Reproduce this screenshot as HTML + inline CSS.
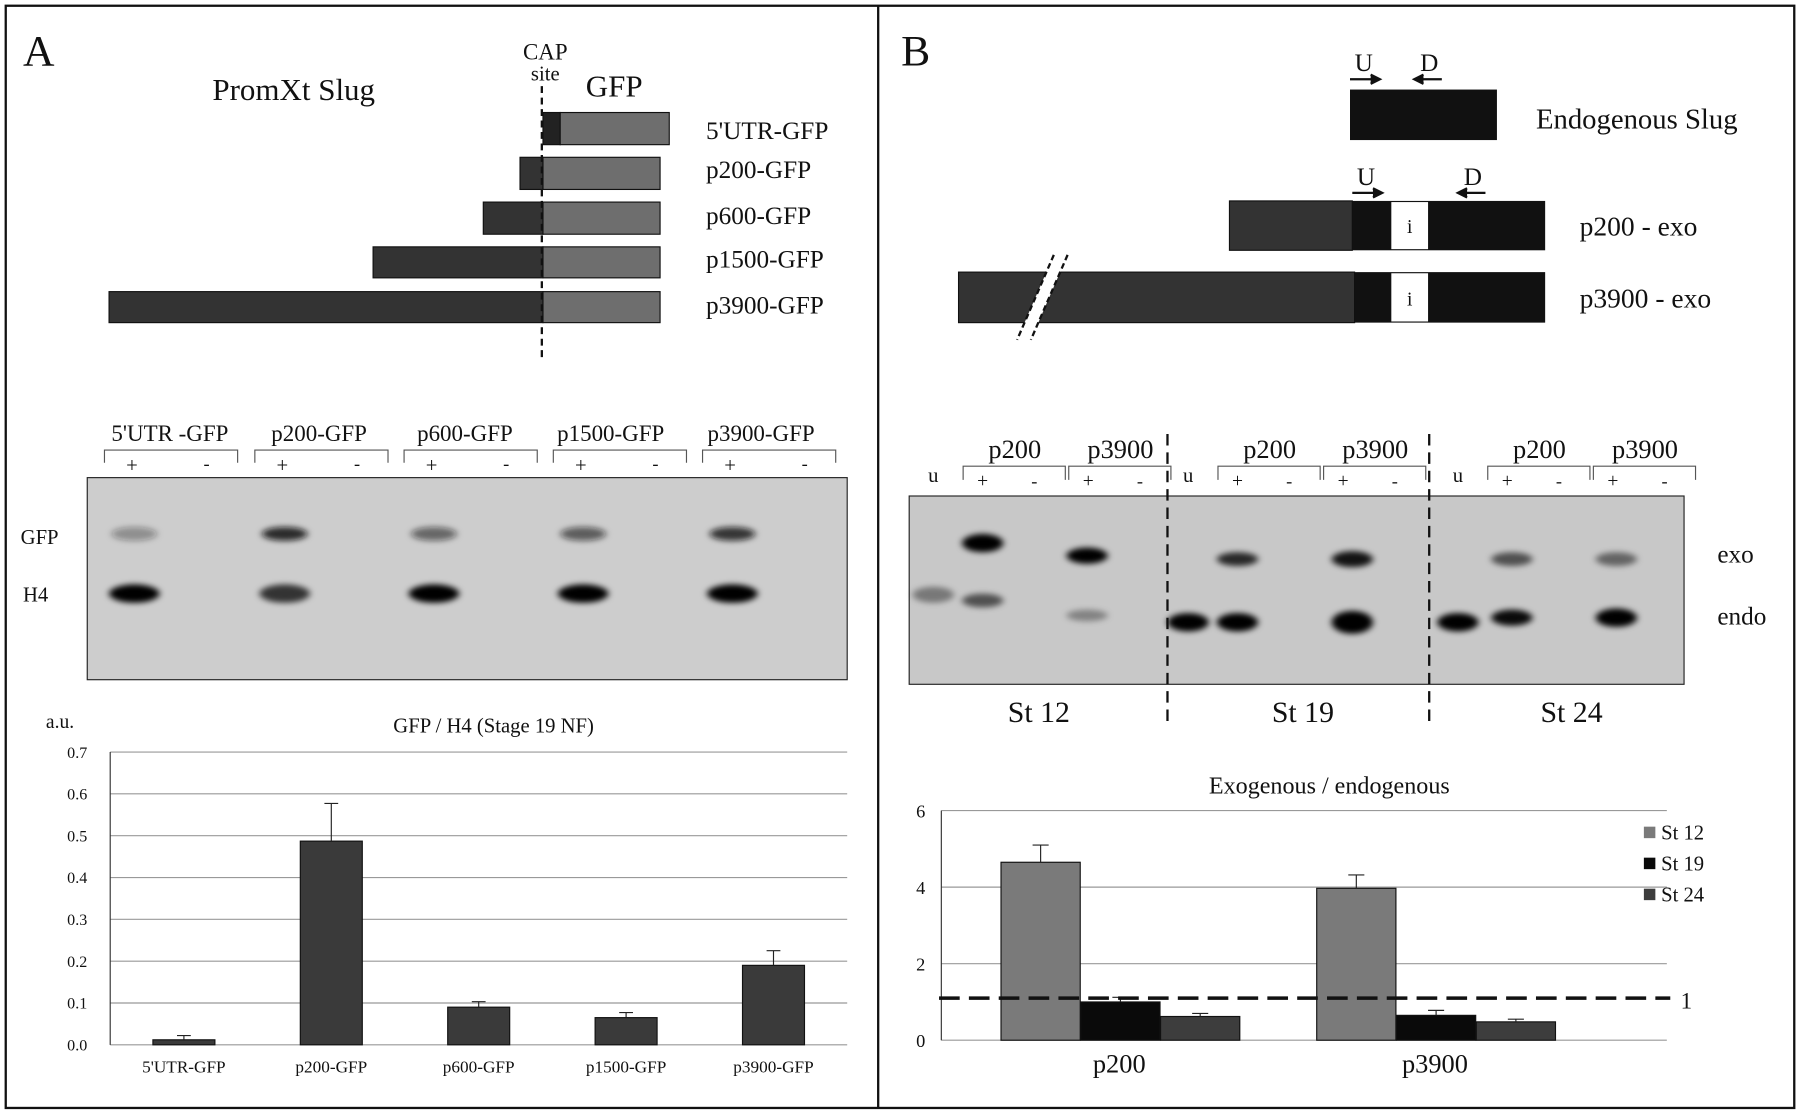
<!DOCTYPE html>
<html><head><meta charset="utf-8"><style>
html,body{margin:0;padding:0;background:#fff;}
svg{display:block;}
text{font-family:"Liberation Serif",serif;fill:#111;}
</style></head><body>
<svg id="fig" width="1800" height="1116" viewBox="0 0 1568 972" preserveAspectRatio="none">
<defs>
<filter id="blur" x="-50%" y="-100%" width="200%" height="300%"><feGaussianBlur stdDeviation="3 2.5"/></filter>
</defs>
<rect x="5" y="5" width="1558" height="960" fill="none" stroke="#111" stroke-width="2"/>
<line x1="765" y1="5" x2="765" y2="965" stroke="#111" stroke-width="2"/>

<!-- Panel A -->
<g>
<text x="20" y="57" font-size="38">A</text>
<text x="185" y="87" font-size="27">PromXt Slug</text>
<text x="475" y="52" font-size="20" text-anchor="middle">CAP</text>
<text x="475" y="70" font-size="18" text-anchor="middle">site</text>
<text x="535" y="84" font-size="27" text-anchor="middle">GFP</text>
<g>
<rect x="473" y="98" width="15" height="28" fill="#222" stroke="#111"/><rect x="488" y="98" width="95" height="28" fill="#6e6e6e" stroke="#111"/>
<rect x="453" y="137" width="20" height="28" fill="#333" stroke="#111"/><rect x="473" y="137" width="102" height="28" fill="#6e6e6e" stroke="#111"/>
<rect x="421" y="176" width="52" height="28" fill="#333" stroke="#111"/><rect x="473" y="176" width="102" height="28" fill="#6e6e6e" stroke="#111"/>
<rect x="325" y="215" width="148" height="27" fill="#333" stroke="#111"/><rect x="473" y="215" width="102" height="27" fill="#6e6e6e" stroke="#111"/>
<rect x="95" y="254" width="378" height="27" fill="#333" stroke="#111"/><rect x="473" y="254" width="102" height="27" fill="#6e6e6e" stroke="#111"/>
</g>
<line x1="472" y1="75" x2="472" y2="313" stroke="#111" stroke-width="2" stroke-dasharray="6,4"/>
<g font-size="22">
<text x="615" y="121">5'UTR-GFP</text><text x="615" y="155">p200-GFP</text><text x="615" y="195">p600-GFP</text><text x="615" y="233">p1500-GFP</text><text x="615" y="273">p3900-GFP</text>
</g>
<g font-size="20" text-anchor="middle">
<text x="148" y="384">5'UTR -GFP</text><text x="278" y="384">p200-GFP</text><text x="405" y="384">p600-GFP</text><text x="532" y="384">p1500-GFP</text><text x="663" y="384">p3900-GFP</text>
</g>
<g id="bracketsA" stroke="#555" fill="none"></g>
<rect x="76" y="416" width="662" height="176" fill="#cdcdcd" stroke="#222"/>
<g id="bandsA" filter="url(#blur)"></g>
<text x="18" y="474" font-size="18">GFP</text>
<text x="20" y="524" font-size="18">H4</text>
<text x="430" y="638" font-size="18" text-anchor="middle">GFP / H4 (Stage 19 NF)</text>
<text x="40" y="634" font-size="17">a.u.</text>
<g id="chartA"></g>
</g>

<!-- Panel B -->
<g>
<text x="785" y="57" font-size="38">B</text>
<rect x="1176" y="78" width="128" height="44" fill="#111"/>
<text x="1188" y="62" font-size="22" text-anchor="middle">U</text><text x="1245" y="62" font-size="22" text-anchor="middle">D</text>
<path d="M1176 69 H1200 M1194 65 L1202 69 L1194 73" stroke="#111" stroke-width="2" fill="#111"/>
<path d="M1232 69 H1256 M1240 65 L1232 69 L1240 73" stroke="#111" stroke-width="2" fill="#111"/>
<text x="1338" y="112" font-size="25">Endogenous Slug</text>
<text x="1190" y="161" font-size="22" text-anchor="middle">U</text><text x="1283" y="161" font-size="22" text-anchor="middle">D</text>
<path d="M1178 168 H1202 M1196 164 L1204 168 L1196 172" stroke="#111" stroke-width="2" fill="#111"/>
<path d="M1270 168 H1294 M1278 164 L1270 168 L1278 172" stroke="#111" stroke-width="2" fill="#111"/>
<g>
<rect x="1071" y="175" width="107" height="43" fill="#333" stroke="#111"/><rect x="1178" y="175" width="168" height="43" fill="#111"/>
<rect x="1212" y="176" width="32" height="41" fill="#fff"/><text x="1228" y="203" font-size="17" text-anchor="middle">i</text>
</g>
<text x="1376" y="205" font-size="24">p200 - exo</text>
<g>
<rect x="835" y="237" width="345" height="44" fill="#333" stroke="#111"/><rect x="1180" y="237" width="166" height="44" fill="#111"/>
<rect x="1212" y="238" width="32" height="42" fill="#fff"/><text x="1228" y="266" font-size="17" text-anchor="middle">i</text>
<polygon points="918,222 930,222 898,296 886,296" fill="#fff"/>
<line x1="918" y1="222" x2="886" y2="296" stroke="#111" stroke-width="2" stroke-dasharray="5,3"/>
<line x1="930" y1="222" x2="898" y2="296" stroke="#111" stroke-width="2" stroke-dasharray="5,3"/>
</g>
<text x="1376" y="268" font-size="24">p3900 - exo</text>
<g id="labelsB" font-size="23" text-anchor="middle"></g>
<rect x="792" y="432" width="675" height="164" fill="#c8c8c8" stroke="#222"/>
<g id="bandsB" filter="url(#blur)"></g>
<line x1="1017" y1="378" x2="1017" y2="634" stroke="#111" stroke-width="2" stroke-dasharray="10,6"/>
<line x1="1245" y1="378" x2="1245" y2="634" stroke="#111" stroke-width="2" stroke-dasharray="10,6"/>
<g font-size="26" text-anchor="middle">
<text x="905" y="629">St 12</text><text x="1135" y="629">St 19</text><text x="1369" y="629">St 24</text>
</g>
<text x="1496" y="490" font-size="22">exo</text>
<text x="1496" y="544" font-size="22">endo</text>
<text x="1158" y="691" font-size="21" text-anchor="middle">Exogenous / endogenous</text>
<g id="chartB"></g>
</g>
</svg>
<script>
// Chart A data
const catsA = ["5'UTR-GFP","p200-GFP","p600-GFP","p1500-GFP","p3900-GFP"];
const valsA = [0.012,0.487,0.09,0.065,0.19];
const errA = [0.01,0.09,0.013,0.012,0.035];
const ticksA = ["0.0","0.1","0.2","0.3","0.4","0.5","0.6","0.7"];
// Chart B data
const catsB = ["p200","p3900"];
const seriesB = ["St 12","St 19","St 24"];
const valsB12 = [4.65,3.97];
const valsB19 = [1.0,0.65];
const valsB24 = [0.62,0.48];
const errB12 = [0.45,0.35];
const errB19 = [0.12,0.13];
const errB24 = [0.08,0.07];
const ticksB = [0,2,4,6];
const refLine = 1.1;

const NS="http://www.w3.org/2000/svg";
function mk(parent,tag,attrs,txt){const e=document.createElementNS(NS,tag);for(const k in attrs)e.setAttribute(k,attrs[k]);if(txt!==undefined)e.textContent=txt;parent.appendChild(e);return e;}

// Gel A
const bA=document.getElementById('bracketsA'), gA=document.getElementById('bandsA');
const lanesA=[115,246,376,506,636];
const gfpI=[0.35,0.85,0.55,0.6,0.8], h4I=[1,0.75,1,1,1];
lanesA.forEach((x,i)=>{
  mk(bA,'path',{d:`M${x-24} 403 V392 H${x+92} V403`});
  mk(document.getElementById('fig'),'text',{x:x,y:411,'font-size':18,'text-anchor':'middle'},'+');
  mk(document.getElementById('fig'),'text',{x:x+65,y:409,'font-size':16,'text-anchor':'middle'},'-');
  mk(gA,'ellipse',{cx:x+2,cy:465,rx:20,ry:6,fill:'#111','fill-opacity':gfpI[i]});
  mk(gA,'ellipse',{cx:x+2,cy:517,rx:22,ry:8,fill:'#000','fill-opacity':h4I[i]});
});

// Chart A
const cA=document.getElementById('chartA');
const ax0=96, ax1=738, ay0=910, ayTop=655;
const yA=v=>ay0-(v/0.7)*(ay0-ayTop);
const xA=i=>ax0+(i+0.5)*(ax1-ax0)/catsA.length;
ticksA.forEach(t=>{
  const y=yA(parseFloat(t));
  const gl=mk(cA,'line',{x1:ax0,y1:y,x2:ax1,y2:y,stroke:'#999','stroke-width':1});
  
  
  const tl=mk(cA,'text',{x:ax0-20,y:y+5,'font-size':14,'text-anchor':'end'},t);
  
  
});
mk(cA,'line',{x1:ax0,y1:ayTop,x2:ax0,y2:ay0,stroke:'#333'});
catsA.forEach((c,i)=>{
  const x=xA(i), y=yA(valsA[i]);
  const r=mk(cA,'rect',{x:x-27,y:y,width:54,height:ay0-y,fill:'#3a3a3a',stroke:'#111'});
  
  
  const ye=yA(valsA[i]+errA[i]);
  const e=mk(cA,'path',{d:`M${x} ${y} V${ye} M${x-6} ${ye} H${x+6}`,stroke:'#222',fill:'none'});
  
  
  const l=mk(cA,'text',{x:x,y:934,'font-size':15,'text-anchor':'middle'},c);
  
  
});

// Gel B
const lb=document.getElementById('labelsB'), gB=document.getElementById('bandsB'), fig=document.getElementById('fig');
const stageX=[813,1035,1270];
stageX.forEach((u,s)=>{
  mk(fig,'text',{x:u,y:420,'font-size':18,'text-anchor':'middle'},'u');
  [[u+43,'p200'],[u+135,'p3900']].forEach(([x,n])=>{
    mk(lb,'text',{x:x+28,y:399},n);
    mk(fig,'path',{d:`M${x-17} 418 V406 H${x+72} V418`,stroke:'#555',fill:'none'});
    mk(fig,'text',{x:x,y:424,'font-size':17,'text-anchor':'middle'},'+');
    mk(fig,'text',{x:x+45,y:424,'font-size':16,'text-anchor':'middle'},'-');
  });
});
const bandsB=[[813,518,0.4,7],[856,473,1,8],[856,523,0.6,6],[947,484,1,7],[947,536,0.35,5],
[1035,542,1,8],[1078,487,0.8,6],[1078,542,1,8],[1178,487,0.9,7],[1178,542,1,10],
[1270,542,1,8],[1317,487,0.6,6],[1317,538,0.95,7],[1408,487,0.5,6],[1408,538,1,8]];
bandsB.forEach(([x,y,o,ry])=>mk(gB,'ellipse',{cx:x,cy:y,rx:18,ry:ry,fill:'#000','fill-opacity':o}));

// Chart B
const cB=document.getElementById('chartB');
const bx0=820, bx1=1452, by0=906, byTop=706;
const yB=v=>by0-(v/6)*(by0-byTop);
const groupC=[975,1250];
const colsB=['#7a7a7a','#0a0a0a','#3d3d3d'];
ticksB.forEach(t=>{
  const y=yB(t);
  const gl=mk(cB,'line',{x1:bx0,y1:y,x2:bx1,y2:y,stroke:'#999'});
  
  
  const tl=mk(cB,'text',{x:bx0-14,y:y+6,'font-size':16,'text-anchor':'end'},String(t));
  
  
});
mk(cB,'line',{x1:bx0,y1:byTop,x2:bx0,y2:by0,stroke:'#333'});
const allV=[valsB12,valsB19,valsB24], allE=[errB12,errB19,errB24];
catsB.forEach((c,g)=>{
  seriesB.forEach((s,k)=>{
    const x=groupC[g]-103+k*69.5, v=allV[k][g], y=yB(v);
    const r=mk(cB,'rect',{x:x,y:y,width:69,height:by0-y,fill:colsB[k],stroke:'#111'});
    
    
    const ye=yB(v+allE[k][g]), cx=x+34.5;
    const e=mk(cB,'path',{d:`M${cx} ${y} V${ye} M${cx-7} ${ye} H${cx+7}`,stroke:'#222',fill:'none'});
    
    
  });
  const l=mk(cB,'text',{x:groupC[g],y:934,'font-size':23,'text-anchor':'middle'},c);
  
  
});
const rl=mk(cB,'line',{x1:818,y1:yB(refLine),x2:1455,y2:yB(refLine),stroke:'#111','stroke-width':3,'stroke-dasharray':'18,8'});


mk(cB,'text',{x:1464,y:yB(refLine)+9,'font-size':20},'1');
seriesB.forEach((s,k)=>{
  const y=731+k*27;
  const sw=mk(cB,'rect',{x:1432,y:y-11,width:10,height:10,fill:colsB[k]});
  
  
  const t=mk(cB,'text',{x:1447,y:y,'font-size':18},s);
  
  
});
</script>
</body></html>
